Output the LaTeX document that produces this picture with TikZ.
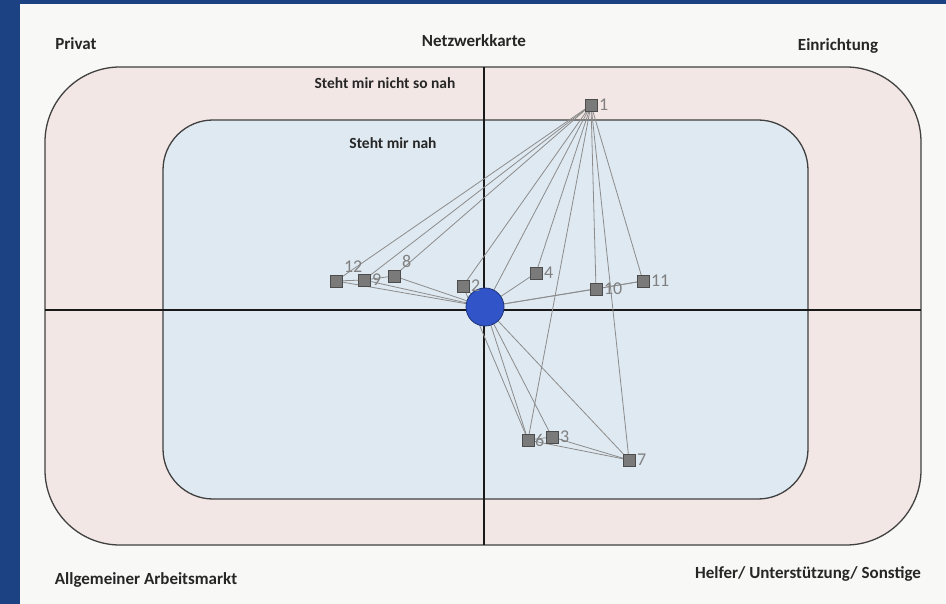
\documentclass[tikz,border=0pt]{standalone}
\usepackage{fontspec}
\setmainfont{Carlito}
\pgfdeclarelayer{bg}
\pgfdeclarelayer{edges}
\pgfsetlayers{bg,edges,main}
\definecolor{frameblue}{HTML}{1D4283}
\definecolor{paper}{HTML}{F8F8F7}
\definecolor{farzone}{HTML}{F3E7E5}
\definecolor{nearzone}{HTML}{DFE9F1}
\definecolor{ego}{HTML}{3155C8}
\definecolor{pencil}{HTML}{8C8C8C}
\tikzset{
  zone/.style={draw=black!75, line width=1.3pt},
  axis/.style={draw=black!90, line width=2.6pt},
  tie/.style={draw=pencil, line width=0.8pt},
  person/.style={rectangle, minimum size=12pt, inner sep=0pt, fill=black!52,
    draw=black!70, line width=0.8pt},
  self/.style={circle, minimum size=38pt, inner sep=0pt, fill=ego,
    draw=ego!60!black, line width=0.8pt},
  num/.style={text=black!50, font=\fontsize{18}{20}\selectfont, inner sep=1.5pt},
  head/.style={font=\fontsize{17}{20}\selectfont\bfseries, text=black!85, inner sep=0pt},
  ring/.style={font=\fontsize{15.5}{18}\selectfont\bfseries, text=black!85, inner sep=0pt},
}
\begin{document}
\begin{tikzpicture}[x=1pt,y=-1pt]
\useasboundingbox (0,0) rectangle (946,604);

% sheet, zones and axes
\begin{pgfonlayer}{bg}
  \fill[frameblue] (0,0) rectangle (946,604);
  \fill[paper] (20,4) rectangle (946,604);
  \draw[zone, fill=farzone, rounded corners=75pt] (45,67) rectangle (921,545);
  \draw[zone, fill=nearzone, rounded corners=50pt] (163,120) rectangle (808,499);
  \draw[axis] (484,67) -- (484,545);
  \draw[axis] (45,310) -- (921,310);
\end{pgfonlayer}

% headings
\node[head] (tPrivat) at (76,44) {Privat};
\node[head] (tTitle) at (474,41) {Netzwerkkarte};
\node[head] (tEinr) at (838,46) {Einrichtung};
\node[head] (tArbeit) at (146,580) {Allgemeiner Arbeitsmarkt};
\node[head] (tHelfer) at (808,574) {Helfer/ Unterstützung/ Sonstige};
\node[ring] (tFar) at (385,83) {Steht mir nicht so nah};
\node[ring] (tNear) at (393,143) {Steht mir nah};

% people
\node[self] (c) at (485,307) {};
\node[person, label={[num]right:1}]  (p1)  at (591,105) {};
\node[person, label={[num]right:2}]  (p2)  at (463,286) {};
\node[person, label={[num]right:3}]  (p3)  at (552,437) {};
\node[person, label={[num]right:4}]  (p4)  at (536,273) {};
\node[person, label={[num, inner sep=0.5pt]right:6}]  (p6)  at (528,440) {};
\node[person, label={[num]right:7}]  (p7)  at (629,460) {};
\node[person, label={[num]above right:8}]  (p8)  at (394,276) {};
\node[person, label={[num]right:9}]  (p9)  at (364,280) {};
\node[person, label={[num]right:10}] (p10) at (596,289) {};
\node[person, label={[num]right:11}] (p11) at (643,281) {};
\node[person, label={[num]above right:12}] (p12) at (336,281) {};

% ties
\begin{pgfonlayer}{edges}
  \foreach \t in {p12,p9,p8,p2,c,p4,p6,p10,p7,p11}
    \draw[tie] (p1.center) -- (\t.center);
  \foreach \t in {p12,p9,p8,p2,p4,p10,p11,p6,p3,p7}
    \draw[tie] (c.center) -- (\t.center);
  \draw[tie] (p12.center) -- (p9.center);
  \draw[tie] (p9.center) -- (p8.center);
  \draw[tie] (p10.center) -- (p11.center);
  \draw[tie] (p2.center) -- (p6.center);
  \draw[tie] (p6.center) -- (p3.center);
  \draw[tie] (p6.center) -- (p7.center);
  \draw[tie] (p3.center) -- (p7.center);
\end{pgfonlayer}
\end{tikzpicture}
\end{document}
